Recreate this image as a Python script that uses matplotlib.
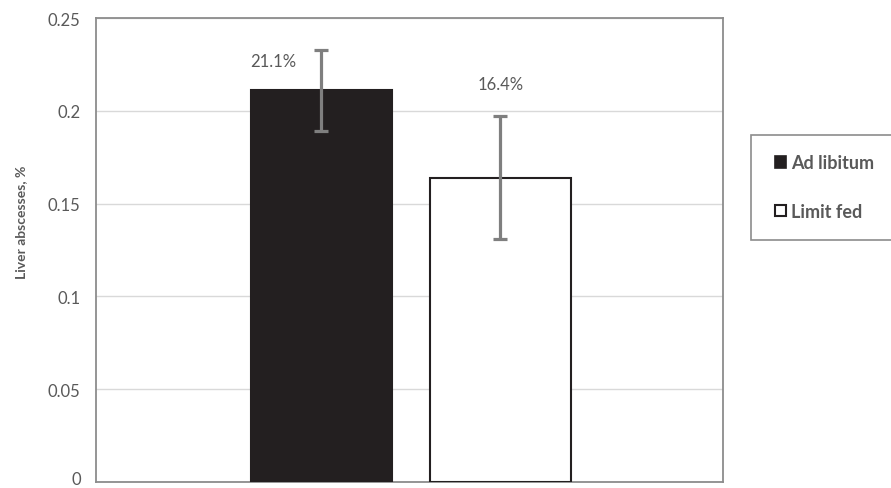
import matplotlib
matplotlib.use("Agg")
import matplotlib.pyplot as plt
import matplotlib.transforms as mtransforms
from matplotlib.patches import Rectangle, Patch

series = ["Ad libitum", "Limit fed"]
values = [0.211, 0.164]
errors = [0.022, 0.033]
labels = ["21.1%", "16.4%"]
yticks = [0, 0.05, 0.1, 0.15, 0.2, 0.25]
ytick_labels = ["0", "0.05", "0.1", "0.15", "0.2", "0.25"]

plt.rcParams['font.family'] = ['Lato', 'DejaVu Sans']
gray_txt = "#595959"

fig = plt.figure(figsize=(8.91, 4.89), dpi=100)
ax = fig.add_axes([96/891, 1-483/489, (723-96)/891, (483-19)/489])

positions = [0.3596, 0.645]
width = 0.2249
facecolors = ["#231f20", "white"]
for pos, v, e, fc, name in zip(positions, values, errors, facecolors, series):
    ax.bar(pos, v, width=width, color=fc, edgecolor="#231f20", linewidth=1.5,
           label=name, zorder=3)
    ax.errorbar(pos, v, yerr=e, fmt="none", ecolor="#7f7f7f", elinewidth=2.3,
                capsize=4.8, capthick=2.3, zorder=4)

# data labels
ax.text(0.282, values[0] + 0.0158, labels[0], ha="center", va="center",
        fontsize=12, color=gray_txt, zorder=5)
ax.text(positions[1], values[1] + 0.0505, labels[1], ha="center", va="center",
        fontsize=12, color=gray_txt, zorder=5)

ax.set_xlim(0, 1)
ax.set_ylim(0, 0.25)
ax.set_yticks(yticks)
ax.set_yticklabels(ytick_labels, fontsize=12, color=gray_txt)
ax.set_xticks([])
ax.tick_params(axis="y", length=0, pad=11)
ax.grid(axis="y", color="#d9d9d9", linewidth=1, zorder=0)
for s in ax.spines.values():
    s.set_color("#8c8c8c")
    s.set_linewidth(1.3)

# nudge the bottom "0" label up slightly so it stays inside the figure
zero_lab = ax.get_yticklabels()[0]
zero_lab.set_transform(zero_lab.get_transform() +
                       mtransforms.ScaledTranslation(0, 4/100, fig.dpi_scale_trans))

fig.text(21/891, 1-222/489, "Liver abscesses, %", rotation=90, ha="center",
         va="center", fontsize=10, fontweight="bold", color=gray_txt)

# legend frame (extends past right edge)
fig.patches.append(Rectangle((751/891, 1-241/489), 150/891, (241-136)/489,
                             transform=fig.transFigure, facecolor="white",
                             edgecolor="#8c8c8c", linewidth=1.2, figure=fig))
handles = [Patch(facecolor="#231f20", edgecolor="#231f20", linewidth=1.2),
           Patch(facecolor="white", edgecolor="#231f20", linewidth=1.5)]
fig.legend(handles, series, loc="center left",
           bbox_to_anchor=(775/891, 1-188/489), frameon=False,
           prop={"size": 13, "weight": "bold"}, labelcolor=gray_txt,
           handlelength=0.6, handleheight=0.6, handletextpad=0.3,
           labelspacing=1.75, borderpad=0, borderaxespad=0)

fig.savefig("out.png", dpi=100)
